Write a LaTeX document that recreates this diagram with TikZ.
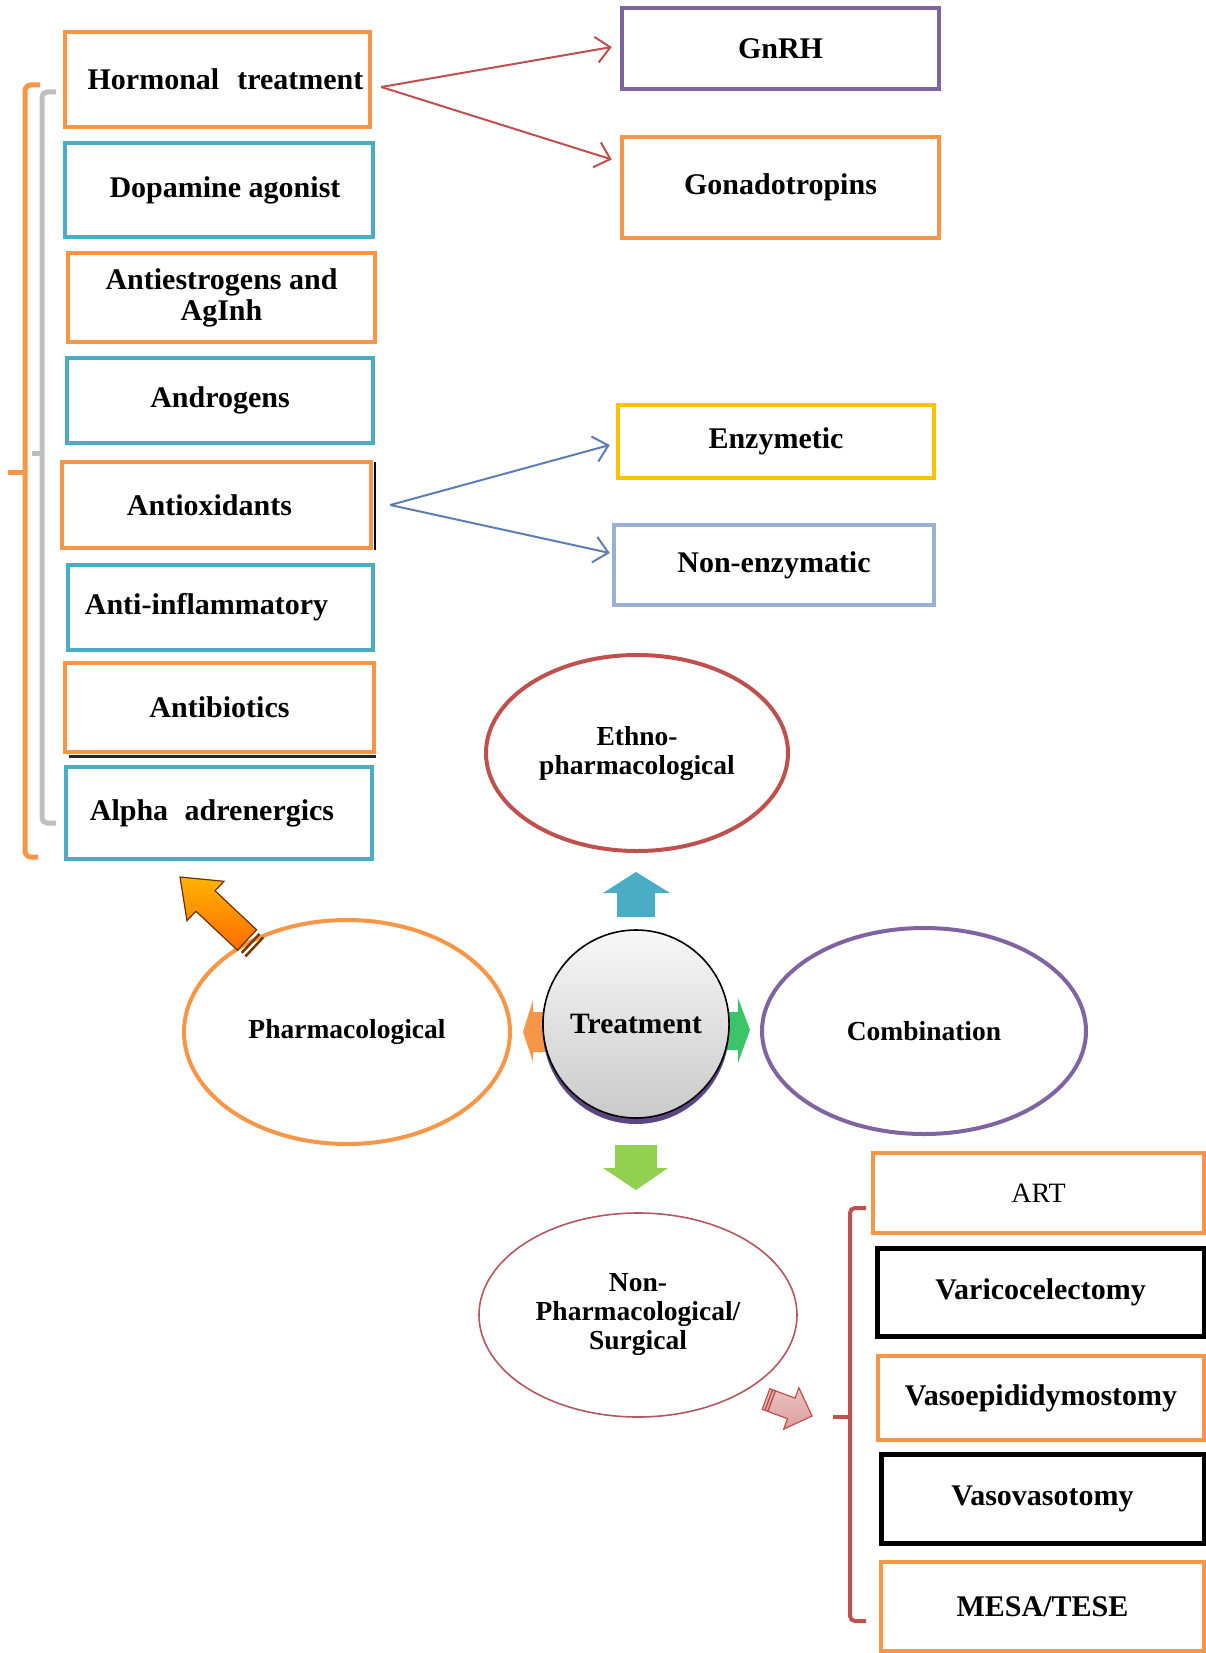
\documentclass[tikz,border=0pt]{standalone}
\usepackage{fontspec}
\setmainfont{Liberation Serif}
\usetikzlibrary{arrows.meta,calc,shapes.geometric,shadows}
\definecolor{orng}{HTML}{F79646}
\definecolor{teal2}{HTML}{4BACC6}
\definecolor{purp}{HTML}{8064A2}
\definecolor{rd}{HTML}{C0504D}
\definecolor{gold}{HTML}{FFC000}
\definecolor{ltblue}{HTML}{9AAFD6}
\definecolor{gry}{HTML}{BCBEC0}
\definecolor{lime2}{HTML}{92D050}
\definecolor{grn}{HTML}{3CC46A}
\definecolor{blarr}{HTML}{5B7FB5}
\definecolor{nprd}{HTML}{B85560}
\definecolor{shpurp}{HTML}{5B4584}
\begin{document}
\begin{tikzpicture}[x=1pt,y=-1pt,
  box/.style={draw, rectangle, line width=4.5pt, inner sep=0pt, font=\fontsize{30}{31}\selectfont\bfseries, align=center},
  ell/.style={draw, ellipse, line width=4pt, inner sep=0pt, font=\fontsize{27.5}{29}\selectfont\bfseries, align=center},
  redarrow/.style={draw=rd, line width=2pt, -{Straight Barb[length=14pt,width=26pt,line width=2pt]}},
  bluearrow/.style={draw=blarr, line width=2pt, -{Straight Barb[length=14pt,width=26pt,line width=2pt]}},
]
\useasboundingbox (0,0) rectangle (1206,1653);
\fill[white] (0,0) rectangle (1206,1653);

% brackets left
\draw[orng, line width=5pt, rounded corners=6pt] (40,85) -- (25,85) -- (25,857) -- (38,857);
\draw[orng, line width=5pt] (25,472) -- (8,472);
\draw[gry, line width=5pt, rounded corners=5pt] (56,92) -- (42,92) -- (42,823) -- (56,823);
\draw[gry, line width=5pt] (42,453) -- (32,453);

% left boxes
\node[box, draw=orng, minimum width=305, minimum height=95] (hormonal) at (217.5,79.5) {\hspace{16pt}Hormonal\hspace{0.35em} treatment};
\node[box, draw=teal2, minimum width=308, minimum height=94] (dopamine) at (219,190) {\hspace{12pt}Dopamine agonist};
\node[box, draw=orng, minimum width=307, minimum height=89] (antiestro) at (221.5,297.5) {Antiestrogens and\\AgInh};
\node[box, draw=teal2, minimum width=306, minimum height=85] (androgens) at (220,400.5) {Androgens};
\node[box, draw=orng, minimum width=309, minimum height=86] (antiox) at (216.5,505) {Antioxidants\hspace{14pt}};
\node[box, draw=teal2, minimum width=305, minimum height=85] (antiinfl) at (220.5,607.5) {Anti-inflammatory\hspace{28pt}};
\node[box, draw=orng, minimum width=309, minimum height=89] (antibio) at (219.5,707.5) {Antibiotics};
\node[box, draw=teal2, minimum width=306, minimum height=92] (alpha) at (219,813) {Alpha\hspace{0.3em} adrenergics\hspace{14pt}};
\draw[black!75!blue, line width=2pt] ($(antiox.north east)+(1.5,2)$) -- ($(antiox.south east)+(1.5,0)$);
\draw[black!85, line width=2.5pt] ($(antibio.south west)+(6,2)$) -- ($(antibio.south east)+(0,2)$);

% right top boxes
\node[box, draw=purp, minimum width=317, minimum height=81] (gnrh) at (780.5,48.5) {GnRH};
\node[box, draw=orng, minimum width=317, minimum height=101] (gonado) at (780.5,187.5) {Gonadotropins};
\node[box, draw=gold, minimum width=316, minimum height=73] (enzym) at (776,441.5) {Enzymetic};
\node[box, draw=ltblue, minimum width=320, minimum height=80] (nonenz) at (774,565) {Non-enzymatic};

% thin arrows
\coordinate (hs) at ($(hormonal.east)+(9,7.5)$);
\draw[redarrow] (hs) -- ($(gnrh.west)+(-8,-1.5)$);
\draw[redarrow] (hs) -- ($(gonado.west)+(-8,-28)$);
\coordinate (as) at ($(antiox.east)+(17,0)$);
\draw[bluearrow] (as) -- ($(enzym.west)+(-6,3.5)$);
\draw[bluearrow] (as) -- ($(nonenz.west)+(-2,-12)$);

% ellipses
\node[ell, draw=rd, minimum width=302, minimum height=196] (ethno) at (637,753) {Ethno-\\pharmacological};
\node[ell, draw=orng, minimum width=326, minimum height=224] (pharm) at (347,1032) {Pharmacological};
\node[ell, draw=purp, minimum width=324, minimum height=206] (combo) at (924,1031) {Combination};
\node[ell, draw=nprd, line width=1.6pt, minimum width=318, minimum height=204] (nonpharm) at (638,1315) {Non-\\Pharmacological/\\Surgical};

% block arrows around treatment
\fill[teal2] (617,917) -- (617,893) -- (603,893) -- (636,872) -- (670,893) -- (655,893) -- (655,917) -- cycle;
\fill[lime2] (615,1145) -- (657,1145) -- (657,1168) -- (668,1168) -- (636,1190) -- (603,1168) -- (615,1168) -- cycle;
\fill[orng] (556,1012) -- (533,1012) -- (533,1000) -- (523,1032) -- (533,1062) -- (533,1052) -- (556,1052) -- cycle;
\fill[grn] (716,1012) -- (738,1012) -- (738,998) -- (750,1030) -- (738,1063) -- (738,1050) -- (716,1050) -- cycle;

% treatment
\node[draw=black, line width=1.6pt, ellipse, minimum width=182, minimum height=188, inner sep=0pt,
  top color=gray!6, bottom color=gray!42,
  drop shadow={shadow xshift=0pt, shadow yshift=-6pt, fill=shpurp, opacity=1},
  font=\fontsize{29.5}{31}\selectfont\bfseries] (treat) at (636,1024) {Treatment};

% orange diagonal arrow (towards left list)
\shade[draw=black!60!orange, line width=1.2pt, top color=orange!60!yellow, bottom color=orange!85!red]
  (256.6,929.8) -- (215.1,890.8) -- (224,881.3) -- (180,877) -- (187,920.7) -- (195.9,911.2) -- (237.4,950.2) -- cycle;
\draw[black!55!orange, line width=2.5pt] (259.5,933.9) -- (241.7,952.9);
\draw[black!55!orange, line width=2.5pt] (263.2,937.4) -- (245.4,956.4);

% pink arrow (towards surgical list)
\shade[draw=rd, line width=1.2pt, top color=rd!35, bottom color=rd!55]
  (762.2,1409.3) -- (787.5,1418.7) -- (783.7,1429.1) -- (812,1416) -- (798.9,1387.7) -- (795.1,1398.1) -- (769.8,1388.7) -- cycle;
\draw[rd, line width=1.5pt] (765,1410.3) -- (772.6,1389.7);
\draw[rd, line width=1.5pt] (767.8,1411.3) -- (775.4,1390.7);

% red bracket right
\draw[rd, line width=4pt, rounded corners=5pt] (866,1208) -- (850,1208) -- (850,1621) -- (866,1621);
\draw[rd, line width=4pt] (850,1417) -- (833,1417);

% bottom right boxes
\node[box, draw=orng, minimum width=331, minimum height=80, font=\fontsize{28}{30}\selectfont] (art) at (1038.5,1193) {ART};
\node[box, draw=black, line width=5pt, minimum width=327, minimum height=88] (varico) at (1040.5,1292) {Varicocelectomy};
\node[box, draw=orng, minimum width=326, minimum height=84] (vasoepi) at (1041,1398) {Vasoepididymostomy};
\node[box, draw=black, line width=5pt, minimum width=323, minimum height=89] (vasovaso) at (1042.5,1498.5) {Vasovasotomy};
\node[box, draw=orng, minimum width=323, minimum height=89] (mesa) at (1042.5,1606.5) {MESA/TESE};
\end{tikzpicture}
\end{document}
